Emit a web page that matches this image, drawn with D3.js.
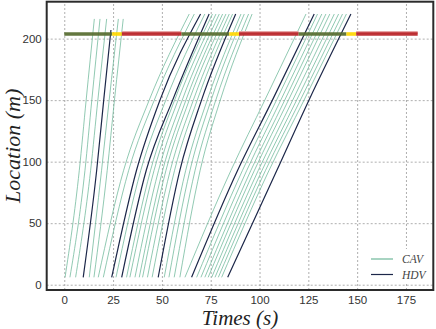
<!DOCTYPE html>
<html>
<head>
<meta charset="utf-8">
<style>
  body { margin: 0; background: #fff; }
  .tick text { font-family: "Liberation Sans", Arial, sans-serif; font-size: 11.5px; fill: #333; }
  .grid line { stroke: #9a9a9a; stroke-width: 0.8; stroke-dasharray: 2,2; }
</style>
</head>
<body>
<svg id="chart" width="436" height="329"></svg>
<script src="https://d3js.org/d3.v7.min.js"></script>
<script>
// vehicle type, C = CAV, H = HDV
var vehType = ['C','C','C','H','C','C',
  'C','C','H','C','H','C','C','C','C','C','C','C','H','C','C','C','C',
  'C','H','C','C','C','C','C','C','C','C','H'];
// time (s) at which each vehicle passes 6 m, 93 m, 150 m, and its last point
var tStart = [0.4,2.9,5.8,9.7,12.8,15.2,
  17.4,20.0,24.3,26.5,29.4,31.9,33.6,36.2,38.4,40.1,42.6,45.0,48.1,51.2,53.6,56.3,59.2,
  61.8,65.2,67.8,70.0,72.0,73.7,75.5,77.2,78.9,80.6,83.7];
var t93 = [7.7,10.6,13.5,16.6,19.1,22.0,
  30.4,33.0,37.0,39.2,42.0,44.2,46.0,48.3,50.4,52.1,54.3,56.5,59.2,62.2,64.4,67.0,69.6,
  85.4,88.8,91.3,93.5,95.6,97.4,99.4,101.3,103.1,104.9,108.9];
var t150 = [11.2,14.1,17.2,20.2,23.0,25.7,
  43.5,46.1,49.0,52.0,55.5,56.5,58.3,60.4,62.3,64.0,66.1,68.1,70.3,73.2,75.2,77.6,79.9,
  102.7,106.6,108.7,110.9,112.9,114.8,117.0,119.0,120.9,122.8,125.3];
var tEnd = [15.4,18.3,21.7,23.9,27.7,30.2,
  64.0,66.6,69.8,72.0,74.2,75.9,77.7,79.4,81.1,82.8,84.5,86.2,87.8,90.5,92.2,94.4,96.2,
  123.8,128.0,129.7,131.9,134.0,136.0,138.3,140.5,142.5,144.5,146.8];
var locEnd = [216,216,216,207,216,216,
  220,220,220,220,220,220,220,220,220,220,220,220,220,220,220,220,220,
  220,220,220,220,220,220,220,220,220,220,220];

// signal phases at the stop line
var phaseStart = [0,24.5,29.5,60,84.5,89.5,120,144.5,149.5];
var phaseEnd = [24.5,29.5,60,84.5,89.5,120,144.5,149.5,181];
var phaseState = ['G','Y','R','G','Y','R','G','Y','R'];
var stopLine = 204;

var xTicks = [0,25,50,75,100,125,150,175];
var yTicks = [0,50,100,150,200];

var svg = d3.select("#chart");
var plotL = 46.7, plotR = 433.3, plotT = 1.7, plotB = 290;

var x = d3.scaleLinear().domain([-9, 189]).range([plotL, plotR]);
var y = d3.scaleLinear().domain([-4.3, 230]).range([plotB, plotT]);

// grid
svg.append("g").attr("class", "grid")
  .attr("transform", "translate(0," + plotB + ")")
  .call(d3.axisBottom(x).tickValues(xTicks).tickSize(-(plotB - plotT)).tickFormat(""))
  .call(function(g){ g.select(".domain").remove(); });
svg.append("g").attr("class", "grid")
  .attr("transform", "translate(" + plotL + ",0)")
  .call(d3.axisLeft(y).tickValues(yTicks).tickSize(-(plotR - plotL)).tickFormat(""))
  .call(function(g){ g.select(".domain").remove(); });

// tick labels
svg.append("g")
  .attr("transform", "translate(0," + plotB + ")")
  .call(d3.axisBottom(x).tickValues(xTicks).tickSize(0).tickPadding(6))
  .call(function(g){ g.select(".domain").remove(); });
svg.append("g")
  .attr("transform", "translate(" + plotL + ",0)")
  .call(d3.axisLeft(y).tickValues(yTicks).tickSize(0).tickPadding(5))
  .call(function(g){ g.select(".domain").remove(); });

// trajectories
var line = d3.line()
  .x(function(d){ return x(d[0]); })
  .y(function(d){ return y(d[1]); })
  .curve(d3.curveMonotoneX);

var vehicles = tStart.map(function(t0, i){
  return {
    type: vehType[i],
    pts: [[t0, 6], [t93[i], 93], [t150[i], 150], [tEnd[i], locEnd[i]]]
  };
});

svg.append("g").selectAll("path")
  .data(vehicles)
  .join("path")
  .attr("d", function(d){ return line(d.pts); })
  .attr("fill", "none")
  .attr("stroke", function(d){ return d.type == 'H' ? "#1c2749" : "#6fb89a"; })
  .attr("stroke-opacity", function(d){ return d.type == 'H' ? 1 : 0.85; })
  .attr("stroke-width", function(d){ return d.type == 'H' ? 1.2 : 0.9; });

// signal bar
var phaseColor = { G: "#566b2f", Y: "#ffd700", R: "#b82327" };
var phases = phaseStart.map(function(s, i){ return { s: s, e: phaseEnd[i], c: phaseState[i] }; });
var bar = svg.append("g");
bar.selectAll("line.halo")
  .data(phases.filter(function(p){ return p.c == 'R'; }))
  .join("line")
  .attr("class", "halo")
  .attr("x1", function(d){ return x(d.s); })
  .attr("x2", function(d){ return x(d.e); })
  .attr("y1", y(stopLine) - 1.2)
  .attr("y2", y(stopLine) - 1.2)
  .attr("stroke", "#e8a6a6")
  .attr("stroke-width", 3);
bar.selectAll("line.seg")
  .data(phases)
  .join("line")
  .attr("class", "seg")
  .attr("x1", function(d){ return x(d.s); })
  .attr("x2", function(d){ return x(d.e); })
  .attr("y1", y(stopLine) + 0.3)
  .attr("y2", y(stopLine) + 0.3)
  .attr("stroke", function(d){ return phaseColor[d.c]; })
  .attr("stroke-opacity", 0.92)
  .attr("stroke-width", 3.6);

// frame
svg.append("rect")
  .attr("x", plotL).attr("y", plotT)
  .attr("width", plotR - plotL).attr("height", plotB - plotT)
  .attr("fill", "none").attr("stroke", "#2b2b2b").attr("stroke-width", 2);

// legend
var leg = svg.append("g");
leg.append("rect").attr("x", 366).attr("y", 249).attr("width", 62).attr("height", 34).attr("fill", "#fff");
var legItems = [{ label: "CAV", c: "#6fb89a", yy: 259 }, { label: "HDV", c: "#1c2749", yy: 274.5 }];
legItems.forEach(function(d){
  leg.append("line").attr("x1", 371).attr("x2", 393).attr("y1", d.yy).attr("y2", d.yy)
    .attr("stroke", d.c).attr("stroke-width", 1.2);
  leg.append("text").attr("x", 402).attr("y", d.yy + 4)
    .attr("font-family", "Liberation Serif, Times New Roman, serif")
    .attr("font-style", "italic").attr("font-size", 11.5).attr("fill", "#444")
    .text(d.label);
});

// axis titles
svg.append("text")
  .attr("x", (plotL + plotR) / 2).attr("y", 325)
  .attr("text-anchor", "middle")
  .attr("font-family", "Liberation Serif, Times New Roman, serif")
  .attr("font-style", "italic").attr("font-size", 21).attr("fill", "#222")
  .text("Times (s)");
svg.append("text")
  .attr("transform", "translate(20," + ((plotT + plotB) / 2) + ") rotate(-90)")
  .attr("text-anchor", "middle")
  .attr("font-family", "Liberation Serif, Times New Roman, serif")
  .attr("font-style", "italic").attr("font-size", 22).attr("fill", "#222")
  .text("Location (m)");
</script>
</body>
</html>
